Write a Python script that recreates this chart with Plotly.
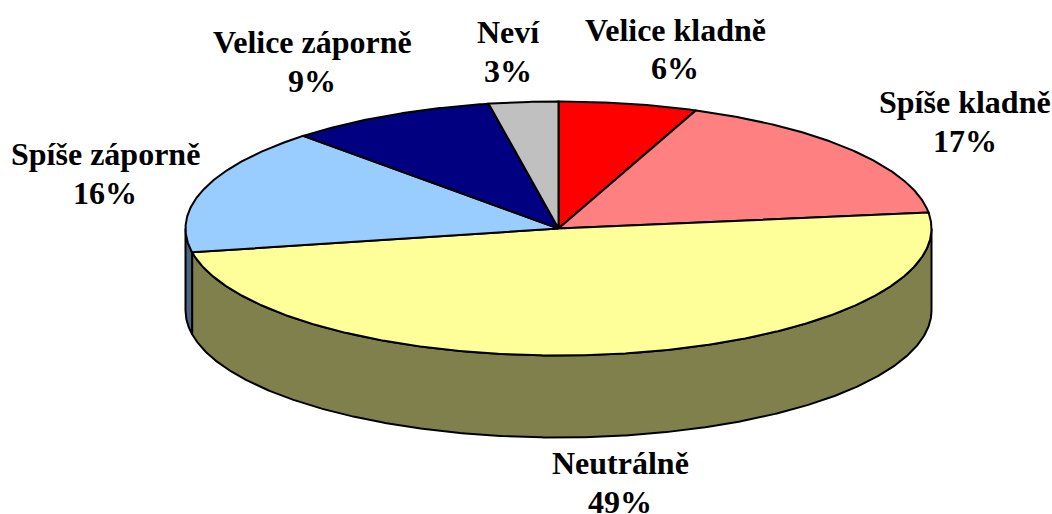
import numpy as np
import plotly.graph_objects as go

categories = ["Velice kladně", "Spíše kladně", "Neutrálně", "Spíše záporně", "Velice záporně", "Neví"]
values = [6, 17, 49, 16, 9, 3]
percent_labels = ["6%", "17%", "49%", "16%", "9%", "3%"]
top_colors = ["#FF0000", "#FF8080", "#FFFF99", "#99CCFF", "#000080", "#C0C0C0"]
wall_colors = ["#800000", "#804040", "#80804D", "#4D6680", "#000040", "#606060"]
label_x = [675, 965, 620, 105, 312, 508]
name_y = [30, 102, 463, 154, 42, 32]
percent_y = [68, 141, 502, 193, 81, 71]

CX, CY, RX, RY, DEPTH = 558.5, 228.5, 373, 127, 82
LINE = dict(color="#000000", width=2)


def arc(a0, a1, drop=0.0):
    t = np.radians(np.linspace(a0, a1, max(int(abs(a1 - a0) * 3), 2)))
    return CX + RX * np.sin(t), CY - RY * np.cos(t) + drop


fig = go.Figure()
edges = np.cumsum([0] + values) * 3.6

# Side walls: only the part of each slice facing the viewer (90 to 270 degrees)
for i, c in enumerate(categories):
    a0, a1 = max(edges[i], 90), min(edges[i + 1], 270)
    if a1 <= a0:
        continue
    x0, y0 = arc(a0, a1)
    x1, y1 = arc(a1, a0, DEPTH)
    fig.add_trace(go.Scatter(
        x=np.r_[x0, x1, x0[0]], y=np.r_[y0, y1, y0[0]], mode="lines",
        fill="toself", fillcolor=wall_colors[i], line=LINE, hoverinfo="skip", name=c))

# Top faces
for i, c in enumerate(categories):
    x0, y0 = arc(edges[i], edges[i + 1])
    fig.add_trace(go.Scatter(
        x=np.r_[CX, x0, CX], y=np.r_[CY, y0, CY], mode="lines",
        fill="toself", fillcolor=top_colors[i], line=LINE, hoverinfo="text", text=c, name=c))

FONT = dict(family="Liberation Serif", size=32, color="#000000")
for c, p, lx, ny, py in zip(categories, percent_labels, label_x, name_y, percent_y):
    for txt, ly in ((c, ny), (p, py)):
        fig.add_annotation(x=lx, y=ly, xref="x", yref="y", text=f"<b>{txt}</b>", showarrow=False,
                           align="center", xanchor="center", yanchor="middle", font=FONT)

fig.update_layout(
    width=1052, height=514, margin=dict(l=0, r=0, t=0, b=0), showlegend=False,
    paper_bgcolor="#FFFFFF", plot_bgcolor="#FFFFFF",
    xaxis=dict(visible=False, range=[0, 1052], fixedrange=True),
    yaxis=dict(visible=False, range=[514, 0], fixedrange=True),
)
fig.write_html("out.html", config=dict(displayModeBar=False),
               post_script="document.body.style.margin='0';document.body.style.overflow='hidden';")
